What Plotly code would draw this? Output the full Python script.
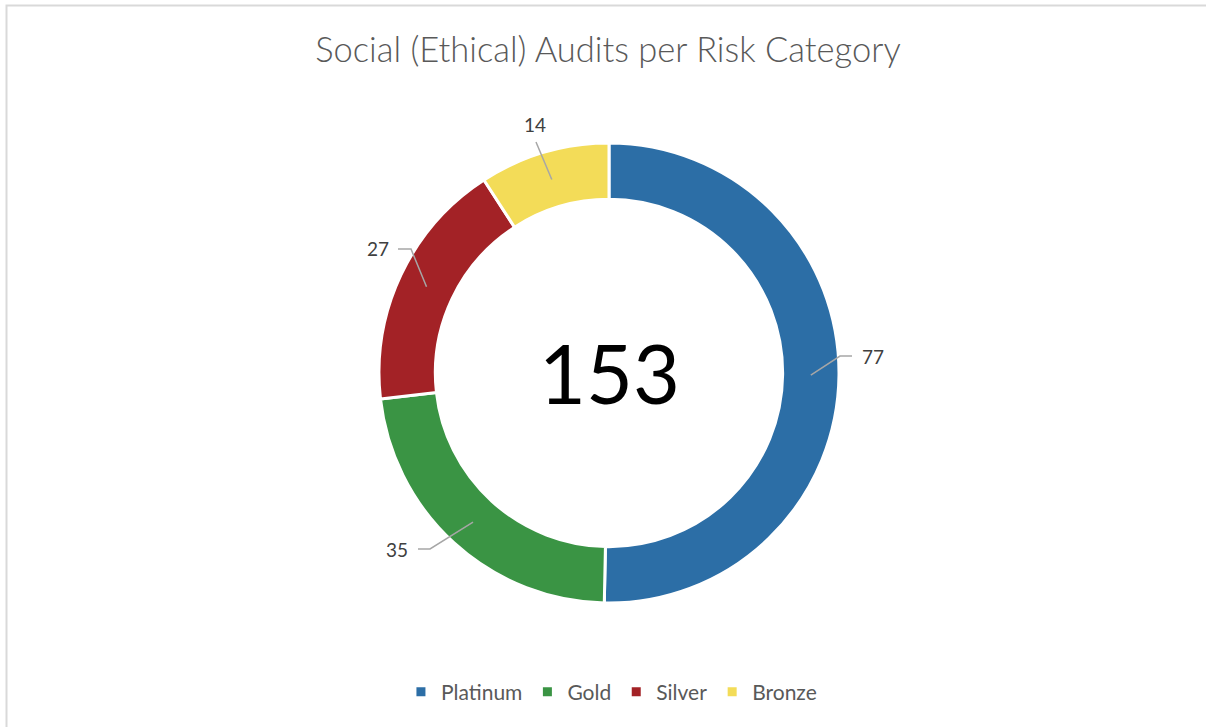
import math
import plotly.graph_objects as go

# Audit counts per risk category
categories = ["Platinum", "Gold", "Silver", "Bronze"]
audits = [77, 35, 27, 14]
colors = ["#2C6EA6", "#3A9444", "#A32226", "#F3DC58"]

W, H = 1206, 727
CX, CY = 609, 373          # donut centre, px
R_OUT = 230                # outer radius, px
HOLE = 0.755
R_MID = R_OUT * (1 + HOLE) / 2

# Label placement: (elbow px, end px, text anchor px, xanchor) per slice
label_layout = [
    ((840, 356), (852, 356), (860, 356), "left"),
    ((430, 549), (418, 549), (410, 549), "right"),
    ((411, 249), (398, 249), (391, 249), "right"),
    ((536, 142), (536, 142), (535, 124), "center"),
]


def px(x, y):
    return x / W, 1 - y / H


fig = go.Figure()
fig.add_trace(go.Pie(
    labels=categories,
    values=audits,
    hole=HOLE,
    sort=False,
    direction="clockwise",
    rotation=0,
    marker=dict(colors=colors, line=dict(color="white", width=3)),
    textinfo="none",
    hoverinfo="label+value",
    domain=dict(x=[(CX - 300) / W, (CX + 300) / W],
                y=[1 - (CY + R_OUT) / H, 1 - (CY - R_OUT) / H]),
))

shapes = []
annotations = []
total = sum(audits)
cum = 0
for val, (elbow, end, anchor, xa) in zip(audits, label_layout):
    mid = (cum + val / 2) / total * 2 * math.pi
    cum += val
    sx = CX + R_MID * math.sin(mid)
    sy = CY - R_MID * math.cos(mid)
    pts = [(sx, sy), elbow, end]
    path = "M " + " L ".join(f"{px(x, y)[0]},{px(x, y)[1]}" for x, y in pts)
    shapes.append(dict(type="path", path=path, xref="paper", yref="paper",
                       line=dict(color="#A6A6A6", width=1.5)))
    ax, ay = px(*anchor)
    annotations.append(dict(x=ax, y=ay, xref="paper", yref="paper",
                            text=str(val), showarrow=False, xanchor=xa,
                            yanchor="middle",
                            font=dict(family="Lato", size=19, color="#404040")))

# Total in the centre of the ring
cx, cy = px(CX, CY)
annotations.append(dict(x=cx, y=cy, xref="paper", yref="paper",
                        text=str(total), showarrow=False,
                        xanchor="center", yanchor="middle",
                        font=dict(family="Lato", size=81, color="#000000")))

# Chart-area frame
shapes.append(dict(type="rect", xref="paper", yref="paper",
                   x0=6.5 / W, x1=1.02, y0=-0.02, y1=1 - 5.5 / H,
                   line=dict(color="#D9D9D9", width=2)))

fig.update_layout(
    width=W, height=H,
    margin=dict(l=0, r=0, t=0, b=0),
    paper_bgcolor="white",
    plot_bgcolor="white",
    title=dict(text="Social (Ethical) Audits per Risk Category",
               x=608 / W, xanchor="center", y=1 - 50 / H, yanchor="middle",
               font=dict(family="Lato", size=34.5, weight=300, color="#595959")),
    showlegend=True,
    legend=dict(orientation="h", x=0.507, xanchor="center",
                y=1 - 692 / H, yanchor="middle",
                font=dict(family="Lato", size=21, color="#595959"),
                itemwidth=30),
    shapes=shapes,
    annotations=annotations,
)

fig.write_html("out.html")
